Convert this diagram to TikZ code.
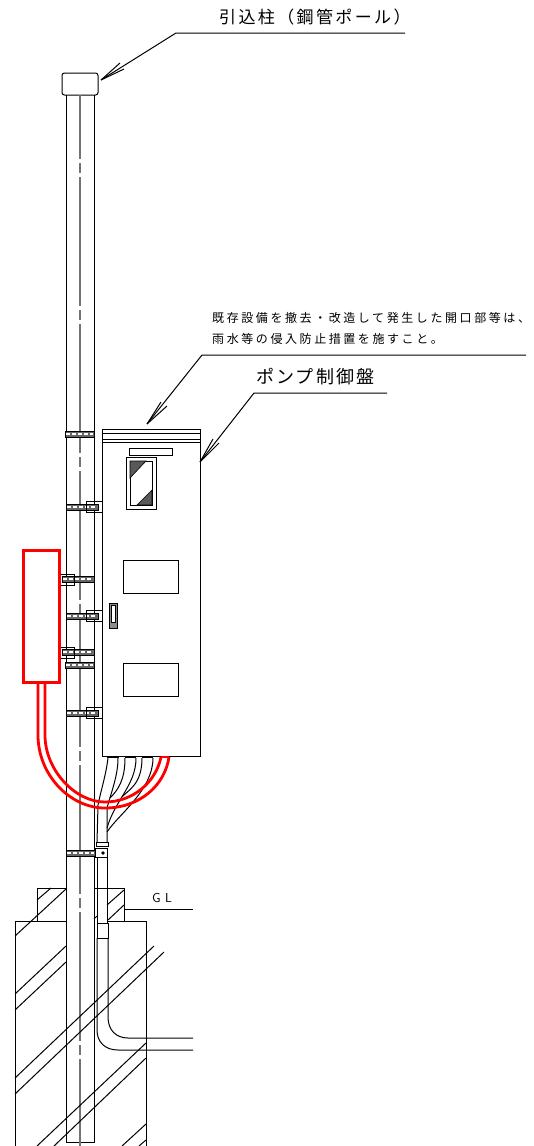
\documentclass[tikz,border=0pt]{standalone}
\usepackage{fontspec}
\usetikzlibrary{calc}
\newfontfamily\jpfont{Noto Sans CJK JP}
\tikzset{
    thinline/.style={draw=black, line width=1pt},
    centerline/.style={draw=black!55, line width=1.2pt, dash pattern=on 129pt off 4pt on 10pt off 4pt, dash phase=65pt},
    redline/.style={draw=red, line width=2.8pt},
    bandbox/.style={draw=black, fill=black!60, line width=1pt},
    bandmark/.style={draw=white, line width=1.5pt, dash pattern=on 4pt off 2pt},
    hatchtri/.style={draw=black, line width=0.6pt, fill=black!65},
    toplabel/.style={anchor=west, inner sep=0pt, font={\jpfont\fontsize{17}{17}\selectfont\addfontfeature{LetterSpace=14}}},
    panellabel/.style={anchor=west, inner sep=0pt, font={\jpfont\fontsize{18}{18}\selectfont\addfontfeature{LetterSpace=12}}},
    notelabel/.style={anchor=west, inner sep=0pt, font={\jpfont\fontsize{12}{12}\selectfont\addfontfeature{LetterSpace=21.5}}},
    gllabel/.style={anchor=west, inner sep=0pt, font={\sffamily\fontsize{13}{13}\selectfont}},
}
\newcommand{\poleband}[3]{
    \draw[bandbox] (#1, #3-3) rectangle (#2, #3+3);
    \draw[bandmark] (#1+1, #3) -- (#2-1, #3);
}
\newcommand{\fanbarbs}[3]{
    \draw[thinline] (#1) -- (#2) (#1) -- (#3);
}
\begin{document}
\begin{tikzpicture}[x=1pt, y=-1pt]
    \useasboundingbox (0, 0) rectangle (534, 1146);

    \node[toplabel] (polelabel) at (219, 17) {引込柱（鋼管ポール）};
    \node[notelabel] (noteone) at (212, 318) {既存設備を撤去・改造して発生した開口部等は、};
    \node[notelabel] (notetwo) at (212, 339) {雨水等の侵入防止措置を施すこと。};
    \node[panellabel] (panellabel) at (256, 377) {ポンプ制御盤};
    \node[gllabel] (gl) at (152, 898) {G\,\,L};

    % leaders
    \coordinate (poletip) at (101, 80);
    \coordinate (notetip) at (147, 424);
    \coordinate (paneltip) at (200, 462);
    \draw[thinline] (405, 33) -- (176, 33) -- (poletip);
    \fanbarbs{poletip}{120, 63}{124, 69}
    \draw[thinline] (526, 355) -- (202, 355) -- (notetip);
    \fanbarbs{notetip}{161, 402}{167, 406}
    \draw[thinline] (387, 393) -- (254, 393) -- (paneltip);
    \fanbarbs{paneltip}{213, 439}{219, 443}

    % pole
    \draw[thinline, rounded corners=2.5pt] (62, 73) rectangle (98, 95);
    \draw[thinline] (66, 95) -- (66, 1142) -- (94, 1142) -- (94, 95);
    \draw[centerline] (80, 95) -- (80, 1146);

    % panel
    \draw[thinline] (102, 429) rectangle (200, 756);
    \draw[thinline] (102, 433) -- (200, 433);
    \draw[thinline] (102, 439) -- (200, 439);
    \draw[thinline] (102, 442) -- (200, 442);
    \draw[thinline] (129, 448) rectangle (172, 455);
    \draw[thinline] (126, 457) rectangle (156, 509);
    \draw[thinline] (130, 461) rectangle (152, 505);
    \draw[hatchtri] (130, 461) -- (146, 461) -- (130, 478) -- cycle;
    \draw[hatchtri] (152, 505) -- (152, 490) -- (137, 505) -- cycle;
    \draw[thinline] (123, 560) rectangle (178, 593);
    \draw[thinline] (123, 663) rectangle (178, 696);
    \draw[thinline, fill=black!45] (109, 603) rectangle (117, 628);
    \draw[thinline, fill=white] (111, 605) rectangle (115, 622);

    % bands and brackets
    \poleband{65}{94}{434}
    \poleband{66}{98}{507}
    \draw[thinline] (86, 501) -- (102, 501) (86, 512) -- (102, 512) (86, 501) -- (86, 512);
    \poleband{62}{94}{579}
    \draw[thinline] (60, 574) -- (74, 574) -- (74, 585) -- (60, 585);
    \poleband{66}{98}{616}
    \draw[thinline] (86, 610) -- (102, 610) (86, 621) -- (102, 621) (86, 610) -- (86, 621);
    \poleband{62}{94}{652}
    \draw[thinline] (60, 647) -- (74, 647) -- (74, 658) -- (60, 658);
    \poleband{65}{94}{665}
    \poleband{66}{98}{713}
    \draw[thinline] (86, 707) -- (102, 707) (86, 718) -- (102, 718) (86, 707) -- (86, 718);

    % cables below the panel
    \draw[thinline] (107, 757) -- (119, 757) (125, 757) -- (136, 757) (142, 757) -- (153, 757);
    \draw[thinline] (108, 758) .. controls (106, 775) and (101, 790) .. (98, 805) -- (97, 842);
    \draw[thinline] (118, 758) .. controls (118, 775) and (112, 790) .. (107, 808) -- (107, 842);
    \draw[thinline] (125, 758) .. controls (125, 780) and (118, 790) .. (110, 798);
    \draw[thinline] (136, 758) .. controls (136, 785) and (115, 800) .. (107, 828);
    \draw[thinline] (142, 758) .. controls (142, 785) and (128, 790) .. (122, 797);
    \draw[thinline] (153, 758) .. controls (153, 790) and (118, 815) .. (107, 832);
    \draw[thinline] (96, 842) rectangle (108, 846);

    % clamp and conduit
    \poleband{66}{95}{853}
    \draw[thinline] (95, 848) rectangle (107, 857);
    \fill (103, 853) circle (1.8);
    \draw[thinline] (97, 857) -- (97, 923) (107, 857) -- (107, 923);
    \draw[thinline] (97, 923) rectangle (108, 938);
    \draw[thinline] (97, 938) -- (97, 1030) .. controls (97, 1042) and (105, 1050) .. (118, 1050) -- (193, 1050);
    \draw[thinline] (108, 938) -- (108, 1017) .. controls (108, 1030) and (116, 1038) .. (128, 1038) -- (193, 1038);

    % foundation
    \draw[thinline] (66, 888) -- (37, 888) -- (37, 921);
    \draw[thinline] (94, 888) -- (124, 888) -- (124, 921);
    \draw[thinline] (66, 921) -- (15, 921) -- (15, 1146) -- (146, 1146) -- (146, 921) -- (108, 921);
    \draw[thinline] (124, 909) -- (193, 909);

    % hatching
    \draw[thinline] (37, 900) -- (51, 888);
    \draw[thinline] (66, 889) -- (15, 936);
    \draw[thinline] (124, 890) -- (107, 905);
    \draw[thinline] (124, 905) -- (108, 920);
    \draw[thinline] (94, 919) -- (97, 916);
    \draw[thinline] (15, 994) -- (66, 946);
    \draw[thinline] (15, 1010) -- (66, 962);
    \draw[thinline] (15, 1078) -- (154, 946);
    \draw[thinline] (15, 1094) -- (164, 952);
    \draw[thinline] (37, 1146) -- (146, 1043);
    \draw[thinline] (54, 1146) -- (146, 1058);
    \draw[thinline] (122, 1146) -- (146, 1124);
    \draw[thinline] (139, 1146) -- (146, 1140);

    % red box and its conduit
    \draw[draw=red, line width=3pt] (23, 550) rectangle (59, 682);
    \draw[redline] (38, 682) -- (38, 735) .. controls (38, 775) and (70, 808) .. (105, 808) .. controls (140, 808) and (165, 785) .. (169, 757);
    \draw[redline] (45, 682) -- (45, 735) .. controls (45, 770) and (75, 802) .. (105, 802) .. controls (133, 802) and (156, 782) .. (161, 757);
    \draw[redline] (161, 757) -- (169, 757);
\end{tikzpicture}
\end{document}
